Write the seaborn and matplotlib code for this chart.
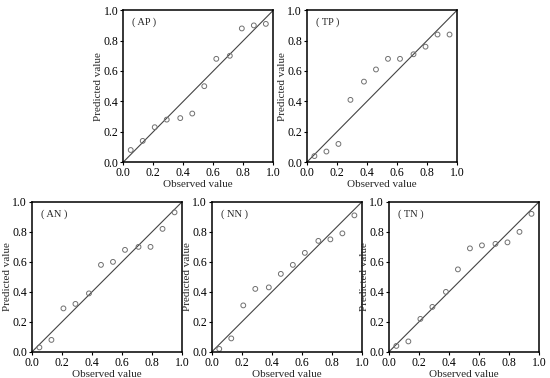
import numpy as np
import pandas as pd
import seaborn as sns
import matplotlib.pyplot as plt

# observed values (same for every panel)
observed = [0.05, 0.13, 0.21, 0.29, 0.38, 0.46, 0.54, 0.62, 0.71, 0.79, 0.87, 0.95]

# predicted values
pred_ap = [0.08, 0.14, 0.23, 0.28, 0.29, 0.32, 0.50, 0.68, 0.70, 0.88, 0.90, 0.91]
pred_tp = [0.04, 0.07, 0.12, 0.41, 0.53, 0.61, 0.68, 0.68, 0.71, 0.76, 0.84, 0.84]
pred_an = [0.03, 0.08, 0.29, 0.32, 0.39, 0.58, 0.60, 0.68, 0.70, 0.70, 0.82, 0.93]
pred_nn = [0.02, 0.09, 0.31, 0.42, 0.43, 0.52, 0.58, 0.66, 0.74, 0.75, 0.79, 0.91]
pred_tn = [0.04, 0.07, 0.22, 0.30, 0.40, 0.55, 0.69, 0.71, 0.72, 0.73, 0.80, 0.92]

panels = ["AP", "TP", "AN", "NN", "TN"]
preds = [pred_ap, pred_tp, pred_an, pred_nn, pred_tn]
ticks = [0.0, 0.2, 0.4, 0.6, 0.8, 1.0]

sns.set_style("ticks")
plt.rcParams['font.family'] = ['Liberation Serif', 'DejaVu Serif']

fig = plt.figure(figsize=(5.5, 3.78), dpi=100)

# axes positions [left, bottom, width, height] in figure fraction
boxes = [
    [0.224, 0.571, 0.273, 0.402],
    [0.558, 0.571, 0.273, 0.402],
    [0.058, 0.069, 0.273, 0.397],
    [0.385, 0.069, 0.273, 0.397],
    [0.707, 0.069, 0.273, 0.397],
]

for name, pred, box in zip(panels, preds, boxes):
    ax = fig.add_axes(box)
    df = pd.DataFrame({"Observed value": observed, "Predicted value": pred})
    ax.axline((0, 0), slope=1, color="#444444", lw=0.8, zorder=1)
    sns.scatterplot(data=df, x="Observed value", y="Predicted value", ax=ax,
                    marker="o", s=12, facecolor="none", edgecolor="#707070",
                    linewidth=0.7, zorder=2)
    ax.set_xlim(0, 1)
    ax.set_ylim(0, 1)
    ax.set_xticks(ticks)
    ax.set_yticks(ticks)
    ax.set_xticklabels([f"{t:.1f}" for t in ticks])
    ax.set_yticklabels([f"{t:.1f}" for t in ticks])
    ax.tick_params(direction="out", length=2.5, width=0.8, labelsize=8.5, pad=1, colors="black")
    for sp in ax.spines.values():
        sp.set_visible(True)
        sp.set_color("black")
        sp.set_linewidth(1.1)
    ax.set_xlabel("Observed value", fontsize=8, labelpad=1)
    ax.set_ylabel("Predicted value", fontsize=8, labelpad=0)
    ax.text(0.06, 0.92, f"( {name} )", transform=ax.transAxes, fontsize=7.5,
            ha="left", va="center")

fig.savefig("out.png", dpi=100)
